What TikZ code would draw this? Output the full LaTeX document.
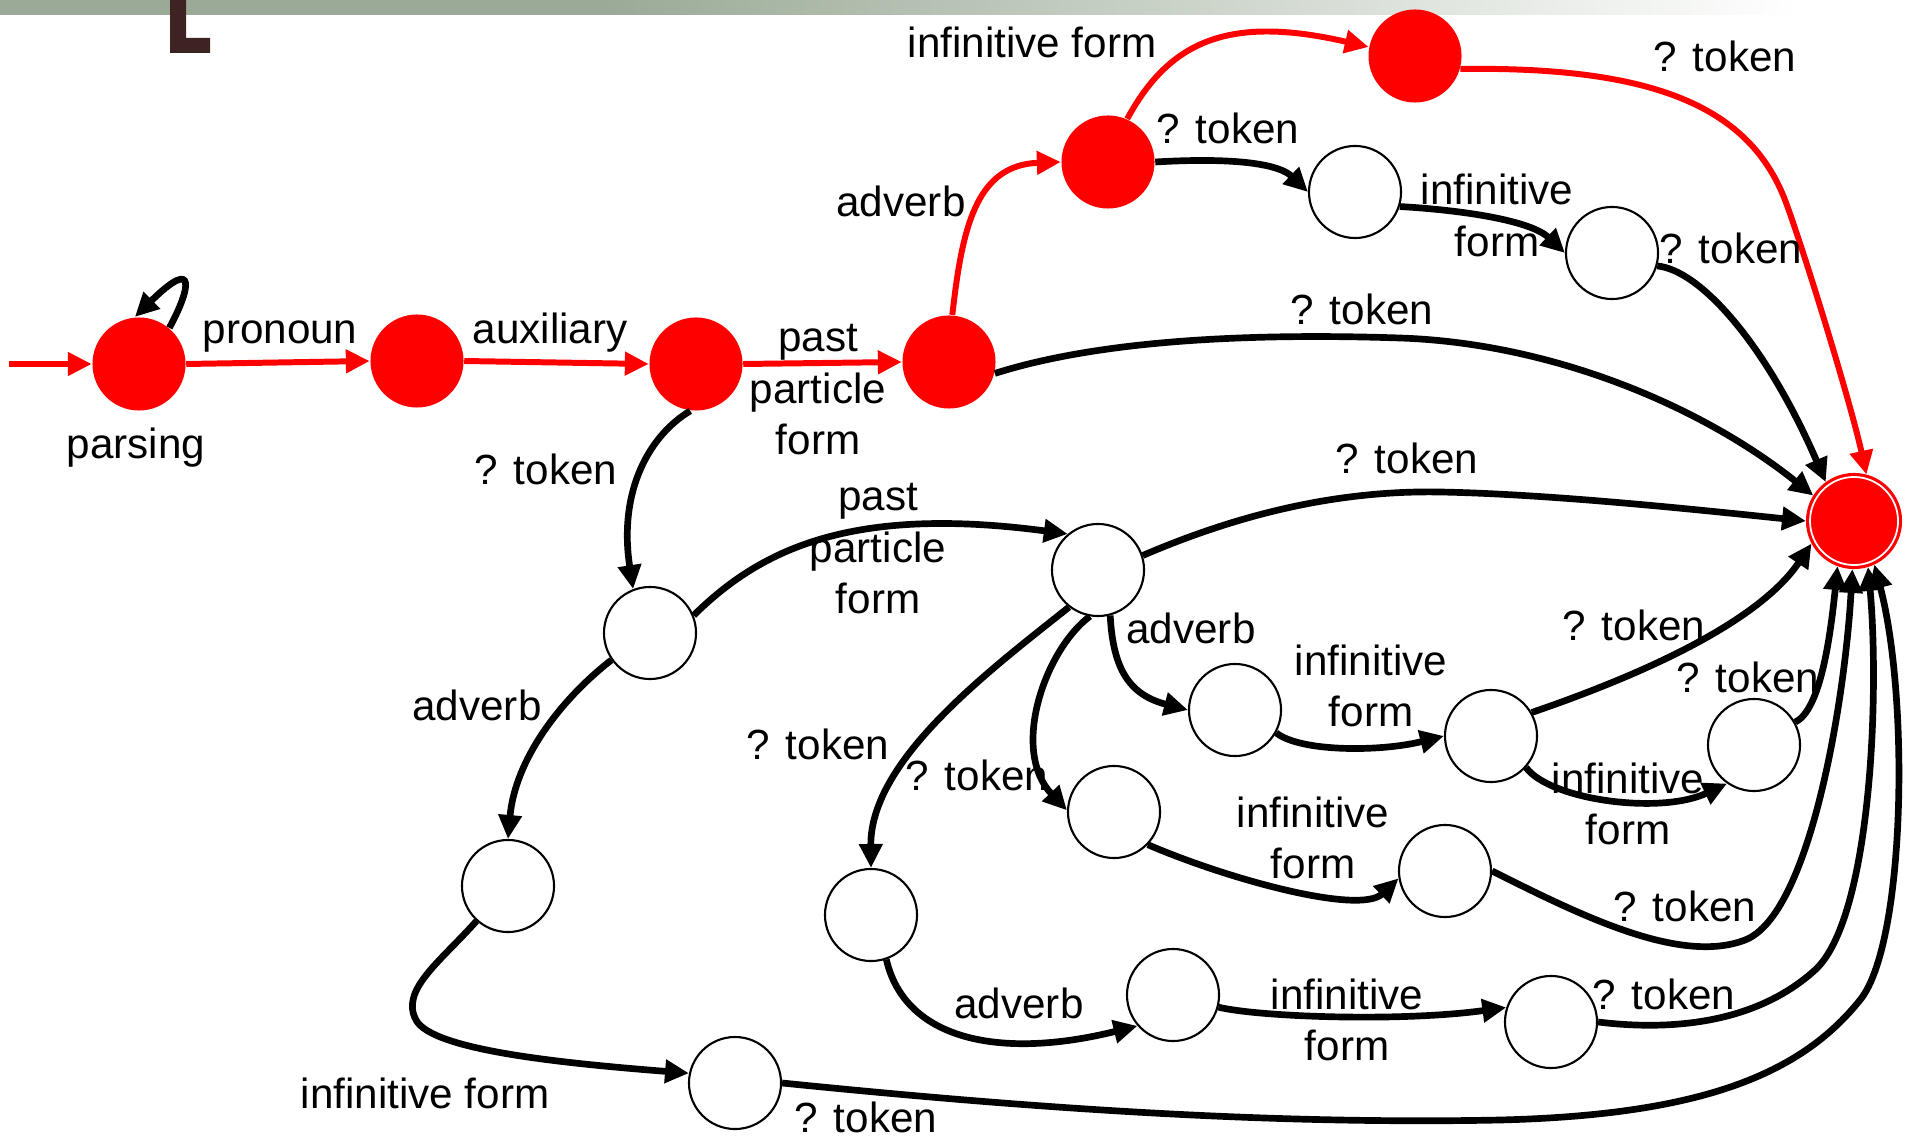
\documentclass[tikz,border=0pt]{standalone}
\usepackage{fontspec}
\setmainfont{Liberation Sans}
\usetikzlibrary{arrows.meta}
\definecolor{barc}{RGB}{154,170,150}
\definecolor{lcol}{RGB}{61,36,34}
\definecolor{fred}{RGB}{255,0,0}
\newcommand{\stk}[1]{\begin{tabular}[t]{@{}c@{}}#1\end{tabular}}
\begin{document}
\begin{tikzpicture}[x=0.01cm,y=-0.01cm,
 redst/.style={circle,fill=fred,inner sep=0pt,minimum size=0.93cm},
 wst/.style={circle,draw=black,line width=0.6pt,fill=white,inner sep=0pt,minimum size=0.92cm},
 fin/.style={circle,fill=fred,draw=fred,double=white,line width=0.9pt,double distance=0.5pt,inner sep=0pt,minimum size=0.88cm,outer sep=1.15pt},
 bedge/.style={line width=1.9pt,-{Triangle[length=6.8pt,width=6.4pt]}},
 redge/.style={bedge,line width=1.7pt,draw=fred},
 lab/.style={font=\fontsize{12pt}{14.6pt}\selectfont,inner sep=0pt,anchor=base}]
\useasboundingbox (0,0) rectangle (1913,1137);
% header bar and title fragment
\fill[barc] (0,0) rectangle (600,15);
\shade[left color=barc,right color=white] (600,0) rectangle (1800,15);
\fill[lcol] (170,0) -- (186,0) -- (186,38) -- (210,38) -- (210,53) -- (170,53) -- cycle;
% states
\coordinate (start) at (9,364);
\node[redst] (P0) at (139,364) {};
\node[redst] (P1) at (417,361) {};
\node[redst] (P2) at (696,364) {};
\node[redst] (P3) at (949,362) {};
\node[redst] (R1) at (1108,162) {};
\node[redst] (R2) at (1415,56) {};
\node[wst] (W1) at (1355,192) {};
\node[wst] (W2) at (1612,253) {};
\node[fin] (F) at (1854,521) {};
\node[wst] (A) at (650,633) {};
\node[wst] (B) at (1098,570) {};
\node[wst] (C) at (508,886) {};
\node[wst] (D) at (735,1083) {};
\node[wst] (E) at (871,915) {};
\node[wst] (G) at (1114,812) {};
\node[wst] (H) at (1235,710) {};
\node[wst] (I) at (1491,736) {};
\node[wst] (J) at (1754,745) {};
\node[wst] (K) at (1445,871) {};
\node[wst] (L) at (1173,995) {};
\node[wst] (M) at (1551,1022) {};
% red path
\draw[redge] (start) -- (P0.west);
\draw[redge] (P0.east) -- (P1.west);
\draw[redge] (P1.east) -- (P2.west);
\draw[redge] (P2.east) -- (P3.west);
\draw[redge] (P3.86) .. controls (962,230) and (975,165) .. (R1.west);
\draw[redge] (R1.66) .. controls (1170,40) and (1230,15) .. (R2.169);
\draw[redge] (R2.-16) .. controls (1660,66) and (1750,110) .. (1785,200) .. controls (1802,245) and (1850,400) .. (F.75);
% black transitions
\draw[bedge] (P0.50) .. controls (190,290) and (198,255) .. (P0.95);
\draw[bedge] (R1.east) .. controls (1240,157) and (1280,165) .. (W1.west);
\draw[bedge] (W1.-18) .. controls (1460,210) and (1530,220) .. (W2.west);
\draw[bedge] (W2.-16) .. controls (1700,270) and (1766,344) .. (F.126);
\draw[bedge] (P3.-14) .. controls (1100,340) and (1250,333) .. (1400,338) .. controls (1550,343) and (1700,405) .. (F.148);
\draw[bedge] (P2.263) .. controls (650,435) and (618,490) .. (A.111);
\draw[bedge] (A.22) .. controls (760,550) and (850,505) .. (B.130);
\draw[bedge] (A.215) .. controls (560,700) and (515,760) .. (C.north);
\draw[bedge] (C.228) .. controls (440,962) and (400,990) .. (416,1020) .. controls (432,1050) and (560,1063) .. (D.168);
\draw[bedge] (B.18) .. controls (1230,518) and (1330,490) .. (1440,492) .. controls (1550,494) and (1700,510) .. (F.west);
\draw[bedge] (B.232) .. controls (990,670) and (870,760) .. (E.north);
\draw[bedge] (B.260) .. controls (1045,650) and (1010,750) .. (G.178);
\draw[bedge] (B.285) .. controls (1113,670) and (1130,695) .. (H.west);
\draw[bedge] (H.-29) .. controls (1300,752) and (1380,752) .. (I.west);
\draw[bedge] (I.30) .. controls (1650,672) and (1760,620) .. (F.208);
\draw[bedge] (I.-42) .. controls (1550,800) and (1660,815) .. (J.235);
\draw[bedge] (J.29) .. controls (1820,710) and (1830,640) .. (F.250);
\draw[bedge] (G.-44) .. controls (1230,880) and (1360,915) .. (K.189);
\draw[bedge] (K.east) .. controls (1580,915) and (1680,965) .. (1745,940) .. controls (1810,915) and (1845,700) .. (F.268);
\draw[bedge] (E.-71) .. controls (905,1040) and (1000,1060) .. (L.221);
\draw[bedge] (L.-15) .. controls (1260,1017) and (1400,1022) .. (M.162);
\draw[bedge] (M.east) .. controls (1680,1032) and (1760,1020) .. (1815,970) .. controls (1870,920) and (1880,700) .. (F.287);
\draw[bedge] (D.east) .. controls (1000,1105) and (1250,1125) .. (1500,1120) .. controls (1700,1115) and (1800,1075) .. (1860,1000) .. controls (1905,945) and (1910,700) .. (F.295);
% labels
\node[lab] (t1) at (280,344) {pronoun};
\node[lab] (t2) at (550,344) {auxiliary};
\node[lab] (t3) at (136,459) {parsing};
\node[lab] (t4) at (818,352) {\stk{past\\particle\\form}};
\node[lab] (t5) at (901,217) {adverb};
\node[lab] (t6) at (1032,58) {infinitive form};
\node[lab] (t7) at (1725,72) {? token};
\node[lab] (t8) at (1228,144) {? token};
\node[lab] (t9) at (1497,205) {\stk{infinitive\\form}};
\node[lab] (t10) at (1731,264) {? token};
\node[lab] (t11) at (1362,325) {? token};
\node[lab] (t12) at (546,485) {? token};
\node[lab] (t13) at (1407,474) {? token};
\node[lab] (t14) at (878,511) {\stk{past\\particle\\form}};
\node[lab] (t15) at (477,720) {adverb};
\node[lab] (t16) at (818,759) {? token};
\node[lab] (t17) at (977,790) {? token};
\node[lab] (t18) at (1191,643) {adverb};
\node[lab] (t19) at (1371,675) {\stk{infinitive\\form}};
\node[lab] (t20) at (1634,640) {? token};
\node[lab] (t21) at (1748,692) {? token};
\node[lab] (t22) at (1628,793) {\stk{infinitive\\form}};
\node[lab] (t23) at (1313,827) {\stk{infinitive\\form}};
\node[lab] (t24) at (1685,921) {? token};
\node[lab] (t25) at (1019,1018) {adverb};
\node[lab] (t26) at (1347,1009) {\stk{infinitive\\form}};
\node[lab] (t27) at (1664,1009) {? token};
\node[lab] (t28) at (425,1108) {infinitive form};
\node[lab] (t29) at (866,1132) {? token};
\end{tikzpicture}
\end{document}
